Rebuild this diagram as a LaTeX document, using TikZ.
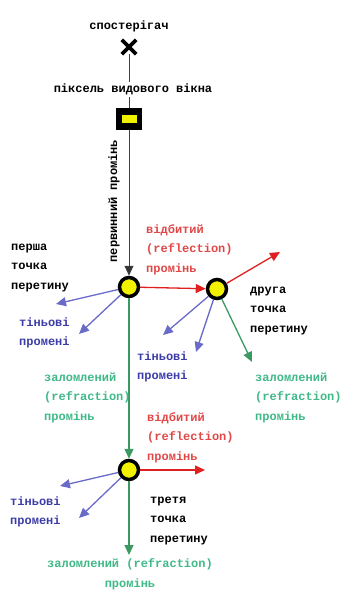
\documentclass[tikz,border=0pt]{standalone}
\usepackage{fontspec}
\newfontfamily\mono{Liberation Mono}
\usetikzlibrary{arrows.meta}
\definecolor{rayred}{HTML}{E02020}
\definecolor{rayblue}{HTML}{6A6AC8}
\definecolor{raygreen}{HTML}{3A9A62}
\definecolor{txtred}{HTML}{E04848}
\definecolor{txtblue}{HTML}{3C3CA8}
\definecolor{txtgreen}{HTML}{40B888}
\definecolor{dotyellow}{HTML}{F2F200}
\begin{document}
\begin{tikzpicture}[x=1pt,y=1pt,
  txt/.style={font={\mono\bfseries\fontsize{12}{19.5}\selectfont}, align=left, inner sep=0pt},
  ray/.style={line width=1.3pt, -{Triangle[length=10pt,width=9pt]}},
  ipt/.style={circle, draw=black, line width=3.5pt, fill=dotyellow, minimum size=19pt, inner sep=0pt},
  pixbox/.style={rectangle, fill=black, minimum width=26pt, minimum height=22pt, inner sep=0pt},
  pixin/.style={rectangle, fill=dotyellow, minimum width=15pt, minimum height=8pt, inner sep=0pt}]
\useasboundingbox (0,0) rectangle (346,-593);
% observer
\node[txt, anchor=base] (lobs) at (129,-30) {спостерігач};
\node[minimum size=14pt, inner sep=0pt] (obs) at (129,-47) {};
\draw[line width=3.8pt] (obs.north west) -- (obs.south east) (obs.north east) -- (obs.south west);
% pixel
\node[pixbox] (pix) at (129,-119) {};
\node[pixin] (pixi) at (pix.center) {};
\draw[line width=0.9pt, black!75] (obs.south) -- (pix.north);
\node[txt, anchor=base, fill=white, inner sep=2pt] (lpix) at (133,-93) {піксель видового вікна};
% intersection points
\node[ipt] (p1) at (129,-287) {};
\node[ipt] (p2) at (217,-289) {};
\node[ipt] (p3) at (129,-470) {};
% primary ray
\draw[line width=0.9pt, black!75, -{Triangle[length=10pt,width=9pt,fill=black!80]}] (pix.south) -- (p1.north);
\node[txt, rotate=90, anchor=center] (lprim) at (114,-201) {первинний промінь};
% first point labels
\node[txt, anchor=base west] (l1) at (11,-289) {перша\\точка\\перетину};
\coordinate (r1) at (280,-252);
\draw[ray, rayred] (p1) -- (p2);
\draw[ray, rayred] (p2) -- (r1);
\node[txt, anchor=base west, text=txtred] (lref1) at (146,-272) {відбитий\\(reflection)\\промінь};
\coordinate (s11) at (56,-304);
\coordinate (s12) at (79,-334);
\draw[ray, rayblue] (p1) -- (s11);
\draw[ray, rayblue] (p1) -- (s12);
\node[txt, anchor=base west, text=txtblue] (ls1) at (19,-345.5) {тіньові\\промені};
\draw[ray, raygreen] (p1) -- (p3);
\node[txt, anchor=base west, text=txtgreen] (lg1) at (44,-420) {заломлений\\(refraction)\\промінь};
% second point
\node[txt, anchor=base west] (l2) at (250,-332) {друга\\точка\\перетину};
\coordinate (s21) at (163,-335);
\coordinate (s22) at (196,-352);
\coordinate (g2) at (252,-362);
\draw[ray, rayblue] (p2) -- (s21);
\draw[ray, rayblue] (p2) -- (s22);
\draw[ray, raygreen] (p2) -- (g2);
\node[txt, anchor=base west, text=txtblue] (ls2) at (137,-379.5) {тіньові\\промені};
\node[txt, anchor=base west, text=txtgreen] (lg2) at (255,-420) {заломлений\\(refraction)\\промінь};
% third point
\node[txt, anchor=base west, text=txtred] (lref2) at (147,-460) {відбитий\\(reflection)\\промінь};
\coordinate (r3) at (205,-470);
\draw[ray, rayred] (p3) -- (r3);
\coordinate (s31) at (60,-486);
\coordinate (s32) at (79,-518);
\draw[ray, rayblue] (p3) -- (s31);
\draw[ray, rayblue] (p3) -- (s32);
\node[txt, anchor=base west, text=txtblue] (ls3) at (10,-524.5) {тіньові\\промені};
\node[txt, anchor=base west] (l3) at (150,-542) {третя\\точка\\перетину};
\coordinate (g3) at (129,-555);
\draw[ray, raygreen] (p3) -- (g3);
\node[txt, align=center, anchor=base, text=txtgreen] (lg3) at (130,-587) {заломлений (refraction)\\промінь};
\end{tikzpicture}
\end{document}
